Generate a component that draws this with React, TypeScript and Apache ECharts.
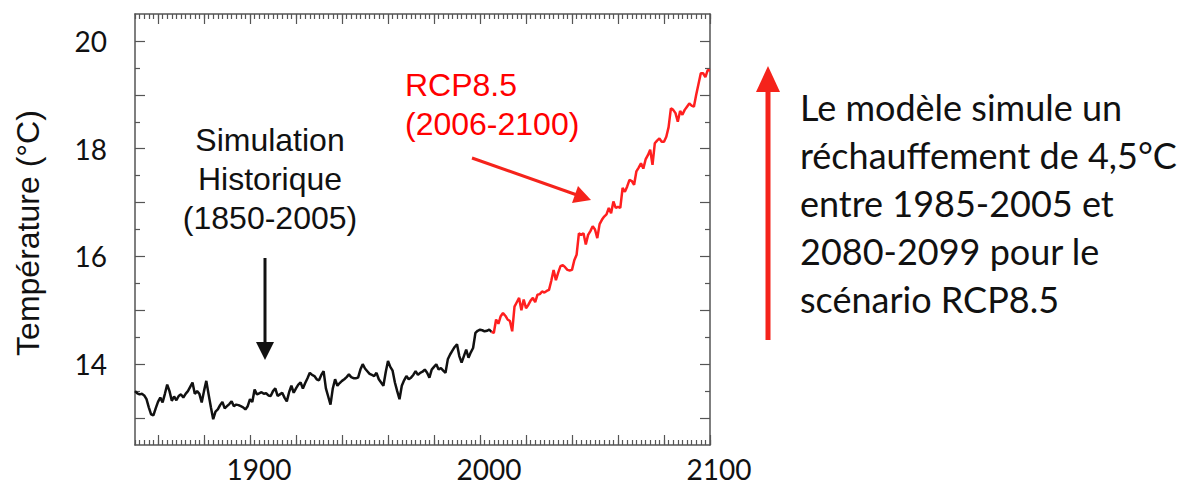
import React, { useEffect, useRef } from "react";
import * as echarts from "echarts";

// ---- data ----
const histStartYear = 1850;
const histValues = [
  13.50, 13.46, 13.44, 13.45, 13.42, 13.35, 13.20, 13.07, 13.05, 13.18,
  13.30, 13.38, 13.29, 13.45, 13.62, 13.50, 13.32, 13.40, 13.33, 13.41,
  13.44, 13.38, 13.45, 13.50, 13.58, 13.66, 13.45, 13.50, 13.45, 13.29,
  13.50, 13.69, 13.44, 13.20, 12.98, 13.12, 13.16, 13.24, 13.30, 13.18,
  13.22, 13.26, 13.31, 13.22, 13.25, 13.24, 13.22, 13.20, 13.16, 13.22,
  13.35, 13.30, 13.53, 13.44, 13.46, 13.48, 13.45, 13.46, 13.42, 13.41,
  13.50, 13.55, 13.41, 13.44, 13.47, 13.38, 13.31, 13.48, 13.60, 13.47,
  13.55, 13.62, 13.66, 13.55, 13.65, 13.74, 13.84, 13.80, 13.78, 13.72,
  13.70, 13.80, 13.87, 13.55, 13.40, 13.25, 13.55, 13.72, 13.60, 13.65,
  13.69, 13.72, 13.76, 13.81, 13.76, 13.74, 13.74, 13.75, 13.90, 14.00,
  13.92, 13.87, 13.82, 13.80, 13.78, 13.84, 13.72, 13.66, 13.60, 13.85,
  14.06, 13.95, 13.88, 13.66, 13.50, 13.35, 13.60, 13.70, 13.78, 13.72,
  13.75, 13.80, 13.87, 13.80, 13.84, 13.86, 13.90, 13.84, 13.75, 13.90,
  13.95, 14.00, 13.90, 13.93, 13.88, 13.84, 14.09, 14.18, 14.25, 14.32,
  14.37, 14.15, 14.03, 14.15, 14.27, 14.12, 14.22, 14.30, 14.58, 14.62,
  14.64, 14.63, 14.61, 14.62, 14.64, 14.60,
];

const rcpStartYear = 2006;
const rcpValues = [
  14.58, 14.83, 14.75, 14.89, 14.95, 14.90, 14.83, 14.80, 14.61, 15.07,
  15.15, 15.23, 15.00, 15.20, 15.04, 15.10, 15.18, 15.23, 15.15, 15.29,
  15.30, 15.35, 15.33, 15.36, 15.38, 15.55, 15.75, 15.56, 15.70, 15.82,
  15.84, 15.80, 15.75, 15.74, 15.75, 15.93, 16.03, 16.43, 16.40, 16.43,
  16.22, 16.40, 16.47, 16.56, 16.50, 16.34, 16.60, 16.68, 16.74, 16.78,
  16.90, 16.80, 17.02, 16.90, 16.92, 16.90, 17.27, 17.20, 17.30, 17.42,
  17.40, 17.33, 17.58, 17.65, 17.73, 17.63, 17.80, 17.88, 17.98, 17.70,
  18.10, 18.15, 18.19, 18.13, 18.13, 18.22, 18.40, 18.75, 18.72, 18.66,
  18.50, 18.70, 18.63, 18.72, 18.78, 18.84, 18.80, 18.78, 19.00, 19.20,
  19.40, 19.40, 19.33, 19.46, 19.45,
];

// ---- axis ticks / labels ----
const xMin = 1850;
const xMax = 2100;
const xMajorTicks = [1860, 1880, 1900, 1920, 1940, 1960, 1980, 2000, 2020, 2040, 2060, 2080, 2100];
const xMinorTicks = Array.from({ length: 126 }, (_, i) => 1850 + i * 2);
const xLabels = [1900, 2000, 2100];

const yMin = 12.5;
const yMax = 20.5;
const yMajorTicks = [13, 14, 15, 16, 17, 18, 19, 20];
const yMinorTicks = [13.5, 14.5, 15.5, 16.5, 17.5, 18.5, 19.5];
const yLabels = [14, 16, 18, 20];

const histLabel = ["Simulation", "Historique", "(1850-2005)"];
const rcpLabel = ["RCP8.5", "(2006-2100)"];
const noteLines = [
  "Le modèle simule un",
  "réchauffement de 4,5°C",
  "entre 1985-2005 et",
  "2080-2099 pour le",
  "scénario RCP8.5",
];
const yTitle = "Température (°C)";

const AXIS_COLOR = "#555555";
const RED = "#ff1f1f";

export default function App() {
  const ref = useRef<HTMLDivElement>(null);

  useEffect(() => {
    if (!ref.current) return;
    const chart = echarts.init(ref.current, null, { renderer: "svg" });

    const histData = histValues.map((v, i) => [histStartYear + i, v]);
    const rcpData = [
      [histStartYear + histValues.length - 1, histValues[histValues.length - 1]],
      ...rcpValues.map((v, i) => [rcpStartYear + i, v]),
    ];

    const tickAxisX = (position: "top" | "bottom", ticks: number[], len: number, labels: boolean, line: boolean) => ({
      type: "value",
      position,
      min: xMin,
      max: xMax,
      gridIndex: 0,
      splitLine: { show: false },
      axisLine: { show: line, onZero: false, lineStyle: { color: AXIS_COLOR, width: 1.5 } },
      axisTick: { show: true, inside: true, length: len, customValues: ticks, lineStyle: { color: AXIS_COLOR, width: 1.2 } },
      axisLabel: labels
        ? {
            show: true,
            customValues: xLabels,
            color: "#111",
            fontFamily: "Lato",
            fontSize: 28,
            margin: 10,
            padding: [0, 0, 0, 18],
            formatter: (v: number) => String(v),
          }
        : { show: false },
    });

    const tickAxisY = (position: "left" | "right", ticks: number[], len: number, labels: boolean, line: boolean) => ({
      type: "value",
      position,
      min: yMin,
      max: yMax,
      gridIndex: 0,
      splitLine: { show: false },
      axisLine: { show: line, onZero: false, lineStyle: { color: AXIS_COLOR, width: 1.5 } },
      axisTick: { show: true, inside: true, length: len, customValues: ticks, lineStyle: { color: AXIS_COLOR, width: 1.2 } },
      axisLabel: labels
        ? {
            show: true,
            customValues: yLabels,
            color: "#111",
            fontFamily: "Lato",
            fontSize: 28,
            margin: 28,
            formatter: (v: number) => String(v),
          }
        : { show: false },
    });

    const textFont = "32px 'Liberation Sans', Arial, sans-serif";

    chart.setOption({
      animation: false,
      backgroundColor: "#ffffff",
      grid: { left: 135, right: 488, top: 14, bottom: 40, containLabel: false },
      xAxis: [
        tickAxisX("bottom", xMajorTicks, 10, true, true),
        tickAxisX("bottom", xMinorTicks, 5, false, false),
        tickAxisX("top", xMajorTicks, 10, false, true),
        tickAxisX("top", xMinorTicks, 5, false, false),
      ],
      yAxis: [
        tickAxisY("left", yMajorTicks, 10, true, true),
        tickAxisY("left", yMinorTicks, 5, false, false),
        tickAxisY("right", yMajorTicks, 10, false, true),
        tickAxisY("right", yMinorTicks, 5, false, false),
      ],
      series: [
        {
          type: "line",
          name: "Historique",
          xAxisIndex: 0,
          yAxisIndex: 0,
          data: histData,
          showSymbol: false,
          symbol: "none",
          lineStyle: { color: "#111111", width: 2.5 },
          z: 3,
        },
        {
          type: "line",
          name: "RCP8.5",
          xAxisIndex: 0,
          yAxisIndex: 0,
          data: rcpData,
          showSymbol: false,
          symbol: "none",
          lineStyle: { color: RED, width: 2.5 },
          z: 3,
        },
      ],
      graphic: [
        {
          type: "text",
          x: 28,
          y: 233,
          rotation: Math.PI / 2,
          style: { text: yTitle, font: textFont, fill: "#111", align: "center", verticalAlign: "middle" },
        },
        ...histLabel.map((t, i) => ({
          type: "text",
          x: 270,
          y: 140 + i * 39,
          style: { text: t, font: textFont, fill: "#111", align: "center", verticalAlign: "middle" },
        })),
        ...rcpLabel.map((t, i) => ({
          type: "text",
          x: 405,
          y: 85 + i * 39,
          style: { text: t, font: textFont, fill: "#ff0000", align: "left", verticalAlign: "middle" },
        })),
        {
          type: "line",
          shape: { x1: 265, y1: 258, x2: 265, y2: 346 },
          style: { stroke: "#111", lineWidth: 3 },
        },
        {
          type: "polygon",
          shape: { points: [[256, 342], [274, 342], [265, 360]] },
          style: { fill: "#111" },
        },
        {
          type: "line",
          shape: { x1: 472, y1: 158, x2: 577, y2: 195 },
          style: { stroke: "#f5231b", lineWidth: 3 },
        },
        {
          type: "polygon",
          shape: { points: [[591, 200], [572, 203], [578, 186]] },
          style: { fill: "#f5231b" },
        },
        {
          type: "line",
          shape: { x1: 768, y1: 340, x2: 768, y2: 88 },
          style: { stroke: "#f5231b", lineWidth: 5 },
        },
        {
          type: "polygon",
          shape: { points: [[756, 92], [780, 92], [768, 66]] },
          style: { fill: "#f5231b" },
        },
        ...noteLines.map((t, i) => ({
          type: "text",
          x: 800,
          y: 107 + i * 48,
          style: { text: t, font: "36px Lato, sans-serif", fill: "#111", align: "left", verticalAlign: "middle" },
        })),
      ],
    });

    return () => chart.dispose();
  }, []);

  return (
    <div
      ref={ref}
      style={{ position: "fixed", left: 0, top: 0, width: 1198, height: 485, background: "#fff" }}
    />
  );
}
